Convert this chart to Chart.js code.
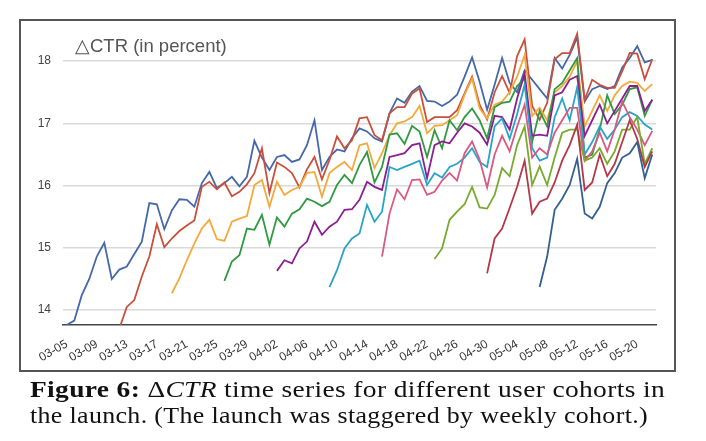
<!DOCTYPE html>
<html>
<head>
<meta charset="utf-8">
<script src="https://cdn.jsdelivr.net/npm/chart.js@4.4.1/dist/chart.umd.min.js"></script>
<style>
  html, body { margin: 0; padding: 0; background: #fff; }
  body { width: 706px; height: 441px; position: relative; overflow: hidden; }
  #wrap { position: absolute; left: 0; top: 0; width: 706px; height: 372px; }
  #frame { position: absolute; left: 19px; top: 19px; width: 657px; height: 353px; box-sizing: border-box; border: 2px solid #555; pointer-events: none; }
  #ytitle { position: absolute; left: 75px; top: 35px; font-family: "Liberation Sans", Arial, sans-serif; font-size: 18.5px; color: #555; white-space: nowrap; }
  .cap { position: absolute; left: 30px; font-family: "Liberation Serif", "Times New Roman", serif; font-size: 23px; color: #111; white-space: nowrap; transform-origin: 0 0; letter-spacing: 0.3px; }
  #cap1 { top: 377px; }
  #cap2 { top: 403px; }
</style>
</head>
<body>
<div id="wrap"><canvas id="c" width="706" height="372"></canvas></div>
<div id="frame"></div>
<div id="ytitle">△CTR (in percent)</div>
<div class="cap" id="cap1" data-w="635"><b>Figure 6:</b> Δ<i>CTR</i> time series for different user cohorts in</div>
<div class="cap" id="cap2" data-w="618">the launch. (The launch was staggered by weekly cohort.)</div>
<script>
const dates = [
 '03-05','03-06','03-07','03-08','03-09','03-10','03-11','03-12','03-13','03-14','03-15','03-16','03-17','03-18','03-19','03-20','03-21','03-22','03-23','03-24','03-25','03-26','03-27','03-28','03-29','03-30','03-31',
 '04-01','04-02','04-03','04-04','04-05','04-06','04-07','04-08','04-09','04-10','04-11','04-12','04-13','04-14','04-15','04-16','04-17','04-18','04-19','04-20','04-21','04-22','04-23','04-24','04-25','04-26','04-27','04-28','04-29','04-30',
 '05-01','05-02','05-03','05-04','05-05','05-06','05-07','05-08','05-09','05-10','05-11','05-12','05-13','05-14','05-15','05-16','05-17','05-18','05-19','05-20','05-21','05-22'];
const tickLabels = ['03-05','03-09','03-13','03-17','03-21','03-25','03-29','04-02','04-06','04-10','04-14','04-18','04-22','04-26','04-30','05-04','05-08','05-12','05-16','05-20'];
const yTicks = [14, 15, 16, 17, 18];

// cohort start dates
const cohortStart = ['03-05','03-12','03-19','03-26','04-02','04-09','04-16','04-23','04-30','05-07'];

const cohort1 = [13.76,13.83,14.24,14.5,14.86,15.08,14.5,14.65,14.7,14.9,
 15.1,15.72,15.7,15.3,15.6,15.78,15.77,15.66,16.04,16.22,
 15.96,16.04,16.14,15.99,16.14,16.72,16.45,16.25,16.46,16.49,
 16.38,16.42,16.65,17.05,16.25,16.46,16.58,16.55,16.76,16.92,
 16.87,16.76,16.71,17.16,17.4,17.33,17.51,17.6,17.36,17.35,
 17.28,17.35,17.46,17.75,18.06,17.67,17.22,17.62,18.05,17.65,
 17.5,17.85,17.7,17.55,17.4,18.05,17.88,18.1,18.38,17.35,
 17.55,17.6,17.55,17.6,17.9,18.05,18.24,17.98,18.02];
const cohort2 = [13.7,14.05,14.16,
 14.54,14.86,15.38,15.01,15.15,15.27,15.36,15.44,15.98,16.06,
 15.94,16.05,15.83,15.9,16.02,16.2,16.6,15.88,16.37,16.3,
 16.2,15.97,16.26,16.46,16.1,16.41,16.79,16.6,16.73,17.08,
 17.1,16.81,16.73,17.16,17.26,17.26,17.48,17.56,17.02,17.1,
 17.1,17.1,17.21,17.48,17.75,17.3,17.06,17.5,17.76,17.49,
 18.08,18.35,17.28,17.06,17.33,18.03,18.13,18.13,18.44,17.38,
 17.7,17.62,17.57,17.57,17.84,18.13,18.12,17.71,18.03];
const cohort3 = [14.27,14.51,14.8,15.07,15.31,15.45,
 15.14,15.11,15.42,15.47,15.51,16.01,16.09,15.66,16.06,15.85,
 15.93,15.98,16.2,16.22,15.82,16.2,16.3,16.38,16.25,16.65,
 16.68,16.28,16.52,16.81,17.0,17.03,17.1,17.28,16.84,16.96,
 16.97,17.05,17.13,17.46,17.72,17.24,17.08,17.3,17.35,17.5,
 17.75,18.1,17.12,17.25,17.05,17.5,17.6,17.75,18.0,16.95,
 17.2,17.45,17.2,17.45,17.6,17.67,17.65,17.52,17.63];
const cohort4 = [14.47,14.78,14.88,15.31,15.29,15.53,15.05,15.49,15.34,
 15.55,15.62,15.79,15.74,15.67,15.74,16.01,16.17,16.04,16.33,
 16.54,16.05,16.3,16.82,16.84,16.67,16.96,16.87,16.46,16.89,
 16.6,17.05,16.89,17.1,17.24,17.05,16.76,17.26,17.33,17.35,
 17.6,17.72,16.7,17.2,16.95,17.55,17.65,17.85,18.05,16.45,
 16.5,16.9,17.45,17.15,17.3,17.55,17.58,17.12,17.38];
const cohort5 = [14.63,14.8,
 14.75,14.99,15.1,15.42,15.21,15.34,15.42,15.61,15.62,15.77,
 16.06,15.98,15.93,16.46,16.49,16.52,16.65,16.68,16.12,16.65,
 16.71,16.68,16.85,17.0,16.95,16.85,16.66,17.12,17.1,16.9,
 17.4,17.8,16.8,16.82,16.8,17.45,17.5,17.7,17.76,16.8,
 17.05,17.3,17.0,17.2,17.4,17.6,17.6,17.2,17.38];
const cohort6 = [14.37,14.64,14.99,15.15,15.23,
 15.69,15.42,15.58,16.3,16.25,16.3,16.35,16.4,16.01,16.2,
 16.13,16.3,16.35,16.45,16.6,16.38,16.3,16.95,17.08,16.75,
 17.15,17.62,16.6,16.4,16.45,17.1,17.4,17.05,17.58,16.5,
 16.7,16.95,16.75,16.9,17.1,17.18,17.12,16.98,16.9];
const cohort7 = [14.86,15.55,15.94,15.78,16.09,16.1,15.85,15.9,
 16.08,16.2,16.08,16.52,16.71,16.42,15.97,16.5,16.8,16.55,
 16.95,17.3,16.45,16.6,16.5,16.85,17.05,17.25,17.25,16.4,
 16.55,16.85,16.55,16.9,17.35,17.1,16.9,16.65,16.88];
const cohort8 = [14.82,
 14.99,15.45,15.58,15.7,15.98,15.65,15.63,15.85,16.28,16.15,
 16.65,16.95,16.01,16.31,16.01,16.45,16.85,16.9,16.9,16.4,
 16.45,16.6,16.35,16.55,16.9,16.9,17.1,16.35,16.6];
const cohort9 = [14.59,15.15,15.31,15.64,
 15.98,16.4,15.55,15.74,15.79,16.05,16.4,16.65,16.98,15.93,
 16.05,16.5,16.15,16.35,16.7,17.05,16.75,16.3,16.55];
const cohort10 = [14.37,14.86,15.61,15.79,16.01,16.43,15.55,
 15.47,15.66,16.04,16.2,16.45,16.52,16.7,16.12,16.5];

const cohorts = [cohort1,cohort2,cohort3,cohort4,cohort5,cohort6,cohort7,cohort8,cohort9,cohort10];
const colors = ['#4568a8','#c8503c','#f2aa3c','#2f9a40','#8a2090','#2aa3c9','#d95a80','#78aa2c','#b2384a','#33608f'];

const datasets = cohorts.map((vals, i) => {
  const start = dates.indexOf(cohortStart[i]);
  const data = new Array(start).fill(null).concat(vals);
  return {
    label: cohortStart[i],
    data: data,
    borderColor: colors[i],
    borderWidth: 1.8,
    pointRadius: 0,
    tension: 0,
    fill: false,
    order: cohorts.length - i
  };
});

new Chart(document.getElementById('c'), {
  type: 'line',
  data: { labels: dates, datasets: datasets },
  options: {
    responsive: false,
    animation: false,
    layout: { padding: { left: 0, right: 50, top: 30, bottom: 0 } },
    plugins: { legend: { display: false }, tooltip: { enabled: false }, title: { display: false } },
    scales: {
      x: {
        type: 'category',
        offset: true,
        grid: { display: true, color: 'rgba(0,0,0,0)', drawTicks: false },
        border: { display: true, color: '#444', width: 1.5 },
        ticks: {
          autoSkip: false,
          minRotation: 30,
          maxRotation: 30,
          padding: 12,
          color: '#333',
          font: { family: '"Liberation Sans", Arial, sans-serif', size: 12 },
          callback: function(value, index) {
            const l = dates[index];
            return tickLabels.includes(l) ? l : '';
          }
        },
        afterFit: function(scale) { scale.height = 47; }
      },
      y: {
        min: 13.76,
        max: 18.5,
        grid: { color: '#d9d9d9', lineWidth: 1.5, drawTicks: false },
        border: { display: false },
        afterBuildTicks: function(scale) { scale.ticks = yTicks.map(v => ({ value: v })); },
        ticks: {
          padding: 12,
          color: '#444',
          font: { family: '"Liberation Sans", Arial, sans-serif', size: 12 }
        },
        afterFit: function(scale) { scale.width = 63; }
      }
    }
  }
});

function fitCaptions() {
  document.querySelectorAll('.cap').forEach(el => {
    el.style.transform = 'none';
    const w = el.getBoundingClientRect().width;
    const target = parseFloat(el.dataset.w);
    if (w > 0) el.style.transform = 'scaleX(' + (target / w) + ')';
  });
}
fitCaptions();
if (document.fonts && document.fonts.ready) document.fonts.ready.then(fitCaptions);
</script>
</body>
</html>
